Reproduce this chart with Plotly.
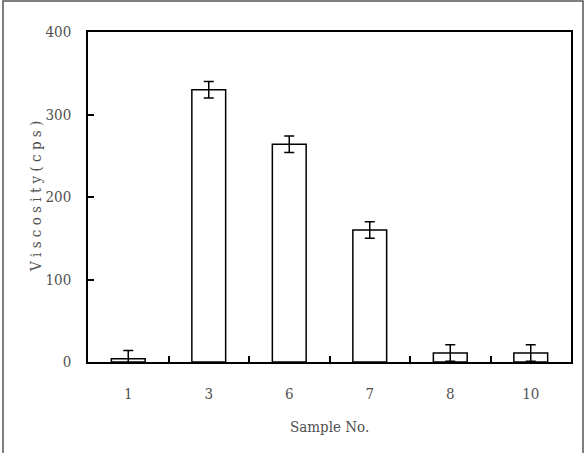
import plotly.graph_objects as go

samples = ["1", "3", "6", "7", "8", "10"]
viscosity = [4, 330, 264, 160, 11, 11]
errors = [10, 10, 10, 10, 10, 10]
y_ticks = [0, 100, 200, 300, 400]

font_family = "'DejaVu Serif Condensed', 'DejaVu Serif', serif"
text_color = "#505050"

fig = go.Figure()
fig.add_trace(go.Bar(
    x=samples,
    y=viscosity,
    marker=dict(color="white", line=dict(color="black", width=1.5)),
    error_y=dict(type="data", array=errors, visible=True, color="black",
                 thickness=1.5, width=5),
    width=0.42,
    showlegend=False,
))

fig.update_layout(
    width=584, height=453,
    margin=dict(l=88, r=13, t=32, b=91),
    paper_bgcolor="white", plot_bgcolor="white",
    font=dict(family=font_family, size=15, color=text_color),
    xaxis=dict(
        type="category", categoryorder="array", categoryarray=samples,
        showline=True, linecolor="black", linewidth=1.5, mirror=True,
        ticks="inside", tickson="boundaries", ticklen=6, tickwidth=1.5,
        tickcolor="black", showgrid=False, zeroline=False,
        ticklabelstandoff=17,
        tickfont=dict(family=font_family, size=15, color=text_color),
    ),
    yaxis=dict(
        range=[0, 400], tickvals=y_ticks,
        showline=True, linecolor="black", linewidth=1.5, mirror=True,
        ticks="inside", ticklen=6, tickwidth=1.5, tickcolor="black",
        showgrid=False, zeroline=False,
        ticklabelstandoff=12,
        tickfont=dict(family=font_family, size=15, color=text_color),
    ),
    annotations=[
        dict(text="V i s c o s i t y ( c p s )", xref="paper", yref="paper",
             x=(36 - 88) / 483, y=0.5, textangle=-90, showarrow=False,
             xanchor="center", yanchor="middle",
             font=dict(family=font_family, size=15, color=text_color)),
        dict(text="Sample No.", xref="paper", yref="paper",
             x=0.5, y=(362 - 427) / 330, showarrow=False,
             xanchor="center", yanchor="middle",
             font=dict(family=font_family, size=15, color=text_color)),
    ],
    shapes=[
        dict(type="rect", xref="paper", yref="paper",
             x0=(3 - 88) / 483, x1=(583 - 88) / 483,
             y0=(362 - 460) / 330, y1=(362 - 1) / 330,
             line=dict(color="#555555", width=1.5), fillcolor="rgba(0,0,0,0)",
             layer="below"),
    ],
)

fig.write_html("out.html")
